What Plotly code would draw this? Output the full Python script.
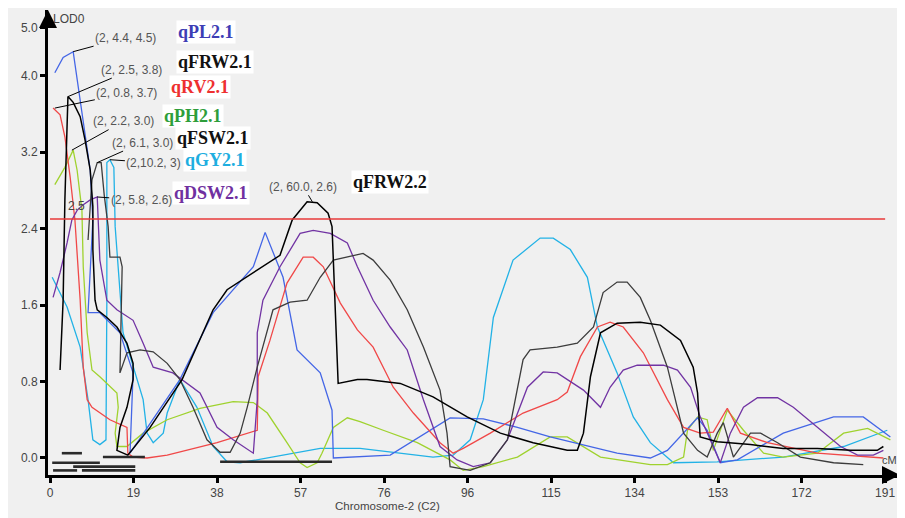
import plotly.graph_objects as go

# ---------------- data (cM, LOD) ----------------
PL_X = [1.1, 3.0, 5.3, 7.6, 9.2, 9.8, 8.7, 11.4, 16.0, 19.0, 18.3, 29.7, 37.3, 46.5, 49.2, 53.3, 56.5, 61.8, 64.5, 64.8,
        77.8, 91.5, 99.1, 106.9, 114.4, 129.7, 137.3, 141.2, 148.1, 150.3, 153.3, 157.2, 167.7, 179.2, 186.0, 192.2]
PL_Y = [4.03, 4.19, 4.25, 3.54, 3.01, 2.49, 1.52, 1.52, 1.31, 0.89, 0.05, 0.82, 1.52, 2.0, 2.36, 1.89, 1.13, 0.89, 0.50, 0.0,
        0.03, 0.42, 0.41, 0.32, 0.22, 0.05, 0.0, 0.08, 0.42, 0.29, -0.05, -0.02, 0.26, 0.43, 0.43, 0.22]

GY_X = [0.5, 3.9, 6.9, 8.7, 9.8, 11.4, 12.8, 13.0, 13.0, 13.7, 14.6, 14.9, 16.7, 19.0, 21.3, 22.2, 23.6, 25.9, 26.8, 29.7,
        33.6, 37.3, 40.5, 43.5, 61.8, 70.9, 87.6, 92.2, 96.1, 99.1, 101.4, 105.9, 112.1, 115.1, 119.0, 122.9, 125.2,
        129.7, 133.4, 137.3, 142.6, 152.6, 167.7, 181.5, 191.5]
GY_Y = [1.89, 1.58, 1.16, 0.61, 0.19, 0.14, 0.19, 1.65, 3.09, 3.12, 3.04, 2.42, 1.31, 0.95, 0.61, 0.26, 0.16, 0.26, 0.47, 0.82,
        0.53, 0.12, -0.04, -0.05, 0.10, 0.10, 0.01, 0.03, 0.19, 0.61, 1.47, 2.07, 2.30, 2.30, 2.18, 1.89, 1.37,
        0.89, 0.43, 0.16, -0.05, -0.04, 0.01, 0.12, 0.29]

RV_X = [0.7, 2.3, 3.4, 4.6, 5.7, 6.9, 7.6, 8.5, 9.6, 13.7, 17.6, 17.8, 19.0, 22.2, 26.8, 31.4, 38.2, 47.4, 47.6, 50.3, 54.2,
        57.9, 60.2, 62.5, 66.4, 70.3, 73.9, 78.5, 83.1, 89.2, 92.2, 94.5, 100.7, 108.2, 116.0, 118.3, 121.3, 125.2,
        128.1, 131.1, 135.7, 141.2, 144.9, 148.7, 151.7, 154.9, 157.9, 164.1, 175.5, 190.6]
RV_Y = [3.66, 3.59, 3.36, 2.94, 2.49, 1.65, 0.95, 0.61, 0.53, 0.40, 0.32, 0.05, 0.01, 0.0, 0.03, 0.08, 0.16, 0.29, 0.85, 1.23, 1.83,
        2.10, 2.10, 2.0, 1.62, 1.34, 1.16, 0.74, 0.47, 0.16, 0.05, 0.10, 0.26, 0.47, 0.61, 0.69, 1.06, 1.37,
        1.42, 1.37, 1.10, 0.61, 0.32, 0.26, 0.27, 0.52, 0.26, 0.16, 0.05, 0.0]

PH_X = [1.1, 3.4, 5.3, 6.2, 7.3, 7.6, 8.5, 9.6, 11.4, 15.3, 15.6, 14.9, 15.3, 17.6, 21.3, 26.8, 34.3, 41.9, 46.5, 49.7, 54.2,
        57.2, 58.8, 61.1, 62.2, 64.8, 68.0, 70.9, 76.2, 84.0, 91.5, 94.5, 99.1, 106.9, 114.4, 118.3, 125.9, 137.3,
        141.2, 144.9, 145.8, 148.1, 150.3, 151.7, 154.9, 158.6, 163.2, 167.7, 175.5, 181.5, 187.0, 192.2]
PH_Y = [2.86, 3.04, 3.22, 3.01, 2.59, 2.0, 1.31, 0.92, 0.85, 0.68, 0.53, 0.26, 0.12, 0.12, 0.26, 0.40, 0.52, 0.59, 0.58, 0.47, 0.16,
        -0.05, -0.10, -0.05, 0.05, 0.32, 0.42, 0.38, 0.29, 0.16, -0.02, -0.13, -0.09, 0.01, 0.22, 0.22, 0.01, -0.07,
        -0.07, 0.01, 0.29, 0.43, 0.40, 0.08, 0.50, 0.29, 0.05, 0.01, 0.05, 0.26, 0.31, 0.19]

DSW_X = [0.7, 2.3, 3.9, 5.0, 6.2, 7.6, 9.2, 10.8, 11.4, 13.0, 15.3, 19.0, 21.3, 23.6, 28.1, 34.3, 38.2, 41.9, 46.5, 47.4, 47.4,
         48.7, 52.6, 57.2, 60.2, 64.1, 68.0, 70.3, 73.9, 77.8, 81.7, 85.4, 89.2, 93.1, 96.8, 100.7, 104.6, 109.2,
         112.8, 116.0, 122.0, 125.9, 128.1, 131.1, 134.3, 140.3, 143.5, 146.5, 148.7, 151.0, 153.3, 155.6, 158.6,
         161.8, 166.4, 170.0, 175.5, 180.8, 184.7, 188.3, 190.6]
DSW_Y = [1.68, 1.94, 2.25, 2.49, 2.59, 2.65, 2.70, 2.73, 2.07, 1.65, 1.55, 1.44, 1.20, 0.95, 0.89, 0.68, 0.32, 0.19, 0.05, 0.61, 1.31,
         1.65, 2.0, 2.35, 2.38, 2.35, 2.25, 2.0, 1.65, 1.37, 1.13, 0.61, 0.12, -0.02, -0.09, -0.05, 0.19, 0.74,
         0.90, 0.89, 0.71, 0.53, 0.74, 0.92, 0.97, 0.97, 0.92, 0.74, 0.43, 0.19, -0.05, 0.26, 0.53,
         0.63, 0.63, 0.53, 0.32, 0.12, 0.03, 0.03, 0.08]

FRW_X = [2.3, 3.0, 3.4, 3.9, 4.1, 5.3, 6.9, 8.0, 9.2, 9.8, 9.8, 10.3, 10.8, 13.0, 15.3, 17.6, 19.0, 19.0, 17.6, 16.0, 15.3,
         17.8, 22.9, 30.2, 37.3, 40.5, 46.5, 52.6, 55.4, 58.8, 61.1, 63.6, 64.5, 65.2, 65.9, 70.3, 72.5, 80.1, 87.6,
         95.4, 103.0, 110.5, 118.3, 120.6, 122.0, 123.6, 125.9, 129.7, 135.0, 139.6, 144.2, 147.1, 148.1, 148.7,
         152.6, 160.2, 167.7, 175.5, 183.1, 189.2, 190.6]
FRW_Y = [0.92, 1.65, 2.70, 3.54, 3.78, 3.72, 3.57, 3.33, 3.01, 2.63, 2.18, 1.65, 1.55, 1.47, 1.37, 1.20, 0.99, 0.82, 0.53, 0.32, 0.08,
         0.03, 0.32, 0.82, 1.55, 1.76, 1.94, 2.12, 2.49, 2.68, 2.67, 2.56, 2.42, 1.65, 0.78, 0.82, 0.82, 0.78, 0.64,
         0.43, 0.26, 0.16, 0.08, 0.08, 0.26, 0.85, 1.31, 1.41, 1.42, 1.39, 1.23, 0.95, 0.68, 0.22,
         0.17, 0.14, 0.10, 0.10, 0.08, 0.08, 0.12]

FSW_X = [8.7, 9.6, 10.8, 11.7, 12.4, 13.3, 13.7, 16.0, 16.5, 16.0, 17.6, 20.6, 23.6, 26.8, 29.7, 32.7, 35.9, 38.9, 41.2, 43.5,
         45.1, 47.4, 51.0, 54.9, 58.8, 61.8, 64.8, 69.3, 71.6, 73.9, 77.8, 81.7, 85.4, 89.2, 90.8, 91.5, 96.1, 100.7,
         104.6, 108.2, 109.8, 116.0, 120.6, 124.3, 126.5, 129.7, 132.0, 135.0, 137.3, 141.2, 144.9, 148.1, 150.3,
         152.6, 154.0, 156.3, 160.2, 162.5, 166.4, 171.6, 179.2, 186.0]
FSW_Y = [2.28, 2.91, 3.09, 3.09, 2.75, 2.42, 2.10, 2.10, 2.0, 0.89, 1.10, 1.13, 1.11, 0.99, 0.82, 0.53, 0.19, 0.06, 0.06, 0.26,
         0.53, 0.95, 1.55, 1.63, 1.65, 1.89, 2.07, 2.12, 2.14, 2.07, 1.86, 1.55, 1.16, 0.71, 0.26, -0.09, -0.13, -0.05,
         0.19, 1.03, 1.13, 1.16, 1.20, 1.37, 1.73, 1.84, 1.84, 1.68, 1.44, 0.95, 0.26, 0.08, 0.01,
         0.26, 0.37, 0.01, 0.26, 0.26, 0.16, 0.01, -0.05, -0.07]

# support-interval bars near the baseline (start cM, end cM, LOD level)
CI_START = [2.7, 12.1, 0.5, 5.3, 0.7, 7.3, 38.9]
CI_END = [7.3, 21.7, 11.4, 19.5, 6.2, 19.5, 64.5]
CI_LOD = [0.05, 0.01, -0.05, -0.09, -0.13, -0.13, -0.04]

THRESHOLD = 2.5
CHROM_END = 191

X_TICKS = [0, 19.1, 38.2, 57.3, 76.4, 95.5, 114.6, 133.7, 152.8, 171.9, 191]
X_TICKTEXT = ["0", "19", "38", "57", "76", "96", "115", "134", "153", "172", "191"]
Y_TICKS = [0, 0.8, 1.6, 2.4, 3.2, 4.0, 4.5]
Y_TICKTEXT = ["0.0", "0.8", "1.6", "2.4", "3.2", "4.0", "5.0"]

# QTL peak labels
QTL_NAMES = ["qPL2.1", "qFRW2.1", "qRV2.1", "qPH2.1", "qFSW2.1", "qGY2.1", "qDSW2.1", "qFRW2.2"]
QTL_PEAK_X = [5.3, 4.1, 1.1, 5.0, 10.8, 13.7, 10.8, 60.0]
QTL_PEAK_Y = [4.25, 3.78, 3.66, 3.22, 3.09, 3.12, 2.73, 2.68]
QTL_COORDS = ["(2, 4.4, 4.5)", "(2, 2.5, 3.8)", "(2, 0.8, 3.7)", "(2, 2.2, 3.0)", "(2, 6.1, 3.0)",
              "(2,10.2, 3)", "(2, 5.8, 2.6)", "(2, 60.0, 2.6)"]

# ---------------- styling ----------------
BG = "#f0f0f0"
C_BLUE = "#4466e6"
C_CYAN = "#22b2e6"
C_RED = "#f04848"
C_GREEN = "#9fd22e"
C_PURPLE = "#7133a3"
C_BLACK = "#000000"
C_GRAY = "#3c3c3c"

fig = go.Figure()

def add_line(x, y, color, width=1.3):
    fig.add_trace(go.Scatter(x=x, y=y, mode="lines", line=dict(color=color, width=width),
                             hoverinfo="skip", showlegend=False))

add_line(GY_X, GY_Y, C_CYAN)
add_line(PH_X, PH_Y, C_GREEN)
add_line(PL_X, PL_Y, C_BLUE)
add_line(RV_X, RV_Y, C_RED)
add_line(DSW_X, DSW_Y, C_PURPLE)
add_line(FSW_X, FSW_Y, C_GRAY)
add_line(FRW_X, FRW_Y, C_BLACK, 1.5)

# threshold
add_line([0, CHROM_END], [THRESHOLD, THRESHOLD], "#e83a3a", 1.6)

# support intervals
for s, e, l in zip(CI_START, CI_END, CI_LOD):
    add_line([s, e], [l, l], "#2a2a2a", 2.6)

annotations = []
label_offsets = [(52, -14), (64, -27), (72, -15), (52, -29), (45, -20), (44, 3), (44, 3), (-9, -15)]
for (ax, ay), px, py, txt in zip(label_offsets, QTL_PEAK_X, QTL_PEAK_Y, QTL_COORDS):
    annotations.append(dict(x=px, y=py, xref="x", yref="y", text=txt, showarrow=True, arrowhead=0,
                            arrowwidth=1, arrowcolor="#000", ax=ax, ay=ay,
                            font=dict(family="Liberation Sans", size=12, color="#555555")))

name_pos = [(35.7, 4.46), (37.7, 4.14), (34.3, 3.88), (32.7, 3.58), (37.3, 3.35), (37.7, 3.12), (36.8, 2.77), (77.8, 2.89)]
name_cols = ["#3d3db5", "#111111", "#ee3030", "#2e9e3a", "#111111", "#1eaee0", "#7030a0", "#111111"]
for (nx, ny), nm, col in zip(name_pos, QTL_NAMES, name_cols):
    annotations.append(dict(x=nx, y=ny, xref="x", yref="y", text="<b>%s</b>" % nm, showarrow=False,
                            bgcolor="white", borderpad=1,
                            font=dict(family="Liberation Serif", size=18, color=col)))

annotations += [
    dict(x=0.003, y=1.0, xref="paper", yref="paper", text="LOD0", showarrow=False, xanchor="left",
         yanchor="top", font=dict(family="Liberation Sans", size=12, color="#444")),
    dict(x=0.999, y=0.015, xref="paper", yref="paper", text="cM", showarrow=False, xanchor="right",
         yanchor="bottom", font=dict(family="Liberation Sans", size=11, color="#444")),
    dict(x=6.0, y=2.64, xref="x", yref="y", text="2.5", showarrow=False,
         font=dict(family="Liberation Sans", size=12, color="#444")),
    dict(x=0.398, y=-0.066, xref="paper", yref="paper", text="Chromosome-2 (C2)", showarrow=False,
         yanchor="middle", font=dict(family="Liberation Sans", size=11.5, color="#444")),
    dict(x=0, y=1.0, xref="paper", yref="paper", ax=0, ay=18, showarrow=True, arrowhead=2,
         arrowsize=1.2, arrowwidth=3, arrowcolor="#000", text=""),
    dict(x=1.0, y=0, xref="paper", yref="paper", ax=-18, ay=0, showarrow=True, arrowhead=2,
         arrowsize=1.2, arrowwidth=3, arrowcolor="#000", text=""),
]

# the page body adds an 8px margin, so the figure is sized to fill the rest of the window
fig.update_layout(
    width=897, height=510,
    margin=dict(l=40, r=5, t=2, b=43),
    paper_bgcolor=BG, plot_bgcolor=BG,
    showlegend=False,
    annotations=annotations,
    xaxis=dict(range=[-0.46, 194.4], tickvals=X_TICKS, ticktext=X_TICKTEXT, showgrid=False, zeroline=False,
               automargin=False,
               showline=True, linewidth=3, linecolor="#000", ticks="outside", ticklen=5, tickwidth=3,
               tickcolor="#000", tickfont=dict(family="Liberation Sans", size=12, color="#444")),
    yaxis=dict(range=[-0.178, 4.686], tickvals=Y_TICKS, ticktext=Y_TICKTEXT, showgrid=False, zeroline=False,
               automargin=False,
               showline=True, linewidth=3, linecolor="#000", ticks="outside", ticklen=5, tickwidth=3,
               tickcolor="#000", tickfont=dict(family="Liberation Sans", size=12, color="#444")),
)

fig.write_html("out.html")
